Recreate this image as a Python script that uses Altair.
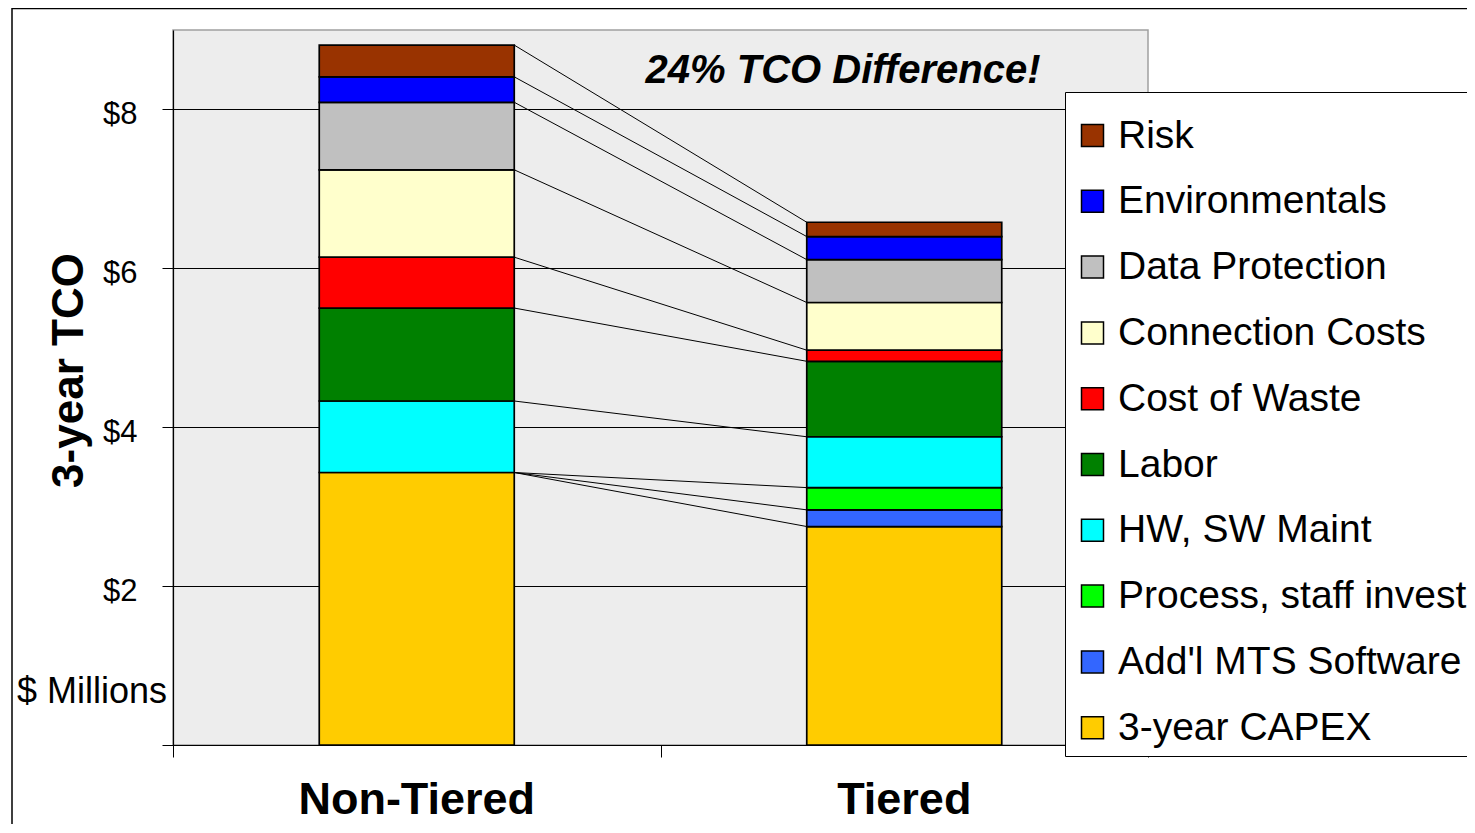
import altair as alt
import pandas as pd

# ---- data ----
scenarios = ["Non-Tiered", "Tiered"]
categories = [  # bottom-to-top stacking order
    "3-year CAPEX",
    "Add'l MTS Software",
    "Process, staff invest",
    "HW, SW Maint",
    "\u00a0Labor",
    "Cost of Waste",
    "Connection Costs",
    "Data Protection",
    "Environmentals",
    "Risk",
]
non_tiered = [3.43, 0.0, 0.0, 0.90, 1.17, 0.64, 1.10, 0.85, 0.32, 0.40]
tiered = [2.75, 0.21, 0.28, 0.64, 0.95, 0.14, 0.60, 0.54, 0.29, 0.18]
colors = ["#FFCC00", "#3366FF", "#00FF00", "#00FFFF", "#008000",
          "#FF0000", "#FFFFCC", "#C0C0C0", "#0000FF", "#993300"]
y_ticks = [0, 2, 4, 6, 8]
annotation = "24% TCO Difference!"
unit_label = "$ Millions"
y_title = "3-year TCO"

# ---- layout constants ----
HALF = 0.2  # half bar width, in category units
FONT = "Liberation Sans"

rows = []
for si, (name, vals) in enumerate(zip(scenarios, [non_tiered, tiered])):
    base = 0.0
    for cat, v in zip(categories, vals):
        rows.append(dict(scenario=name, idx=si, category=cat, value=v,
                         base=base, top=base + v,
                         x0=si + 0.5 - HALF, x1=si + 0.5 + HALF))
        base += v
bars = pd.DataFrame(rows)
bars_drawn = bars[bars["value"] > 0]

nt = bars[bars.idx == 0].set_index("category")
tt = bars[bars.idx == 1].set_index("category")
links = pd.DataFrame({
    "category": categories,
    "y_from": [nt.loc[c, "top"] for c in categories],
    "y_to": [tt.loc[c, "top"] for c in categories],
    "x_from": [0.5 + HALF] * len(categories),
    "x_to": [1.5 - HALF] * len(categories),
})
labels = pd.DataFrame({"scenario": scenarios, "xc": [i + 0.5 for i in range(len(scenarios))]})

xscale = alt.Scale(domain=[0, len(scenarios)], nice=False, zero=False)
yscale = alt.Scale(domain=[0, 9], nice=False)
xax = alt.Axis(values=list(range(len(scenarios) + 1)), labels=False, grid=False,
               tickSize=12, title=None, domainColor="black", tickColor="black",
               domainWidth=1.2, tickWidth=1)
yax = alt.Axis(values=y_ticks, labelExpr="datum.value == 0 ? '' : '$' + datum.value",
               grid=True, gridColor="black", gridWidth=1, tickSize=11,
               tickColor="black", domainColor="black", domainWidth=1.2,
               labelFont=FONT, labelFontSize=31, labelColor="black", labelPadding=25,
               labelOffset=5,
               title=y_title, titleFont=FONT, titleFontSize=44, titleFontWeight="bold",
               titleColor="black", titleX=-91, titleY=340, titleBaseline="alphabetic",
               titleAngle=270, titleAlign="center")

frame = alt.Chart(pd.DataFrame({"k": [0]})).mark_rect(
    fill="transparent", stroke="black", strokeWidth=1.5
).encode(x=alt.value(-161), x2=alt.value(2000), y=alt.value(-21.5), y2=alt.value(2000))

bar_layer = alt.Chart(bars_drawn).mark_bar(stroke="black", strokeWidth=1.7).encode(
    x=alt.X("x0:Q", scale=xscale, axis=xax),
    x2="x1:Q",
    y=alt.Y("base:Q", scale=yscale, axis=yax),
    y2="top:Q",
    color=alt.Color(
        "category:N",
        scale=alt.Scale(domain=categories[::-1], range=colors[::-1]),
        legend=alt.Legend(
            orient="none", legendX=892, legendY=62,
            title="\u00a0", titleFontSize=10, titlePadding=6,
            symbolType="square", symbolSize=484, symbolStrokeColor="black",
            symbolStrokeWidth=1.5, labelFont=FONT, labelFontSize=39,
            labelColor="black", labelOffset=6, labelLimit=700, rowPadding=25.8,
            padding=8, strokeColor="black", fillColor="white",
        ),
    ),
)

link_layer = alt.Chart(links).mark_rule(color="black", strokeWidth=1).encode(
    x=alt.X("x_from:Q", scale=xscale, axis=xax),
    x2="x_to:Q",
    y=alt.Y("y_from:Q", scale=yscale, axis=yax),
    y2="y_to:Q",
)

cat_text = alt.Chart(labels).mark_text(
    font=FONT, fontSize=45, fontWeight="bold", color="black",
    baseline="alphabetic", align="center"
).encode(x=alt.X("xc:Q", scale=xscale, axis=xax), y=alt.value(784), text="scenario:N")

ann = alt.Chart(pd.DataFrame({"t": [annotation]})).mark_text(
    font=FONT, fontSize=40, fontWeight="bold", fontStyle="italic", color="black",
    baseline="alphabetic", align="center"
).encode(x=alt.value(670), y=alt.value(53), text="t:N")

unit = alt.Chart(pd.DataFrame({"t": [unit_label]})).mark_text(
    font=FONT, fontSize=36, color="black", baseline="middle", align="right"
).encode(x=alt.value(-6), y=alt.value(662), text="t:N")

chart = alt.layer(frame, bar_layer, link_layer, cat_text, ann, unit).properties(
    width=975, height=715,
    padding={"left": 165, "top": 22, "right": 319, "bottom": 79},
    autosize=alt.AutoSizeParams(type="none"),
    background="white",
).configure_view(
    fill="#ededed", stroke="#a0a0a0", strokeWidth=1.5
)

chart.save("out.html", embed_options={"renderer": "svg", "actions": False})
